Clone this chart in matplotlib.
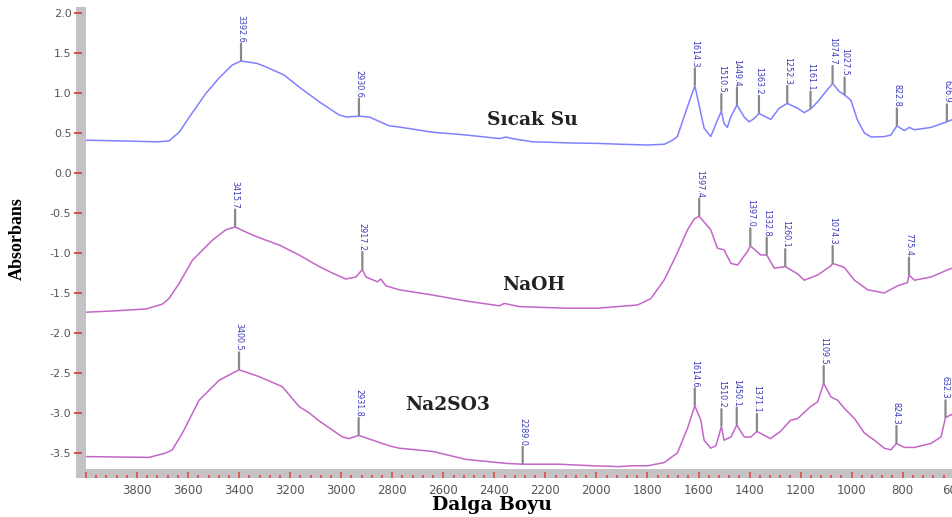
import numpy as np
import matplotlib.pyplot as plt
from matplotlib.patches import Rectangle
from matplotlib.ticker import MultipleLocator

plt.rcParams['axes.unicode_minus'] = False

# Sicak Su spectrum (wavenumber, absorbance)
sicak_x = [4000, 3850, 3720, 3675, 3635, 3584, 3529, 3478, 3427, 3392.6, 3330, 3294, 3224, 3165,
           3086, 3008, 2980, 2930.6, 2890, 2812, 2773, 2643, 2510, 2380, 2355, 2330, 2251, 2094,
           1996, 1910, 1800, 1733, 1702, 1683, 1643, 1614.3, 1578, 1552, 1526, 1510.5, 1500, 1487,
           1474, 1449.4, 1421, 1402, 1382, 1363.2, 1317, 1284, 1252.3, 1212, 1186, 1161.1, 1133,
           1107, 1074.7, 1049, 1027.5, 1003, 977, 950, 924, 872, 846, 822.8, 794, 774, 754, 689,
           626.9, 595]
sicak_y = [0.41, 0.40, 0.39, 0.40, 0.51, 0.75, 1.00, 1.19, 1.35, 1.40, 1.37, 1.325, 1.225, 1.075,
           0.89, 0.725, 0.70, 0.71, 0.70, 0.59, 0.575, 0.51, 0.475, 0.43, 0.45, 0.43, 0.39, 0.375,
           0.37, 0.36, 0.35, 0.36, 0.41, 0.455, 0.83, 1.09, 0.56, 0.455, 0.66, 0.77, 0.62, 0.57,
           0.70, 0.85, 0.70, 0.64, 0.68, 0.745, 0.67, 0.81, 0.87, 0.81, 0.755, 0.80, 0.89,
           0.995, 1.12, 1.02, 0.975, 0.91, 0.66, 0.50, 0.45, 0.455, 0.475, 0.59, 0.53, 0.57, 0.54, 0.57,
           0.64, 0.68]
sicak_peaks = [3392.6, 2930.6, 1614.3, 1510.5, 1449.4, 1363.2, 1252.3, 1161.1, 1074.7, 1027.5, 822.8, 626.9]

# NaOH spectrum
naoh_x = [4000, 3897, 3766, 3701, 3675, 3635, 3583, 3505, 3452, 3415.7, 3348, 3295, 3243, 3165,
          3086, 3035, 2982, 2942, 2917.2, 2903, 2858, 2845, 2825, 2773, 2643, 2511, 2380, 2361,
          2302, 2119, 1996, 1839, 1787, 1735, 1683, 1643, 1617, 1597.4, 1552, 1526, 1500, 1473,
          1447, 1408, 1397.0, 1356, 1332.8, 1303, 1260.1, 1212, 1186, 1133, 1081, 1074.3, 1029,
          989, 937, 872, 820, 781, 775.4, 754, 689, 616, 595]
naoh_y = [-1.74, -1.725, -1.70, -1.64, -1.57, -1.38, -1.09, -0.84, -0.71, -0.675, -0.775, -0.84, -0.90, -1.025,
          -1.17, -1.25, -1.325, -1.30, -1.205, -1.30, -1.36, -1.325, -1.41, -1.46, -1.525, -1.60, -1.66, -1.63,
          -1.67, -1.69, -1.69, -1.65, -1.57, -1.34, -1.00, -0.71, -0.575, -0.54, -0.71, -0.94, -0.96, -1.13,
          -1.15, -0.98, -0.91, -1.025, -1.025, -1.19, -1.17, -1.26, -1.34, -1.275, -1.16, -1.13, -1.18,
          -1.34, -1.46, -1.50, -1.41, -1.37, -1.275, -1.34, -1.30, -1.20, -1.18]
naoh_peaks = [3415.7, 2917.2, 1597.4, 1397.0, 1332.8, 1260.1, 1074.3, 775.4]

# Na2SO3 spectrum
na2_x = [4000, 3753, 3687, 3662, 3622, 3557, 3478, 3400.5, 3322, 3231, 3165, 3125, 3086, 2995,
         2969, 2931.8, 2812, 2773, 2642, 2511, 2354, 2289.0, 2145, 2015, 1910, 1866, 1800, 1735,
         1683, 1643, 1614.6, 1591, 1578, 1552, 1532, 1510.2, 1500, 1473, 1450.1, 1421, 1395,
         1371.1, 1318, 1279, 1239, 1212, 1161, 1133, 1109.5, 1081, 1055, 1029, 989, 950, 911,
         872, 846, 824.3, 794, 754, 689, 650, 632.3, 610, 595]
na2_y = [-3.545, -3.555, -3.50, -3.46, -3.25, -2.84, -2.59, -2.46, -2.545, -2.67, -2.92, -3.0, -3.10, -3.30,
         -3.32, -3.28, -3.41, -3.44, -3.48, -3.58, -3.63, -3.64, -3.64, -3.66, -3.67, -3.66, -3.66, -3.62,
         -3.50, -3.19, -2.91, -3.09, -3.34, -3.44, -3.41, -3.17, -3.34, -3.30, -3.15, -3.30, -3.30,
         -3.23, -3.32, -3.23, -3.09, -3.07, -2.92, -2.86, -2.63, -2.80, -2.84, -2.94, -3.07, -3.25, -3.34,
         -3.44, -3.46, -3.38, -3.43, -3.43, -3.38, -3.30, -3.06, -3.02, -3.05]
na2_peaks = [3400.5, 2931.8, 2289.0, 1614.6, 1510.2, 1450.1, 1371.1, 1109.5, 824.3, 632.3]

series_names = ['Sıcak Su', 'NaOH', 'Na2SO3']
name_pos = [(2251, 0.66), (2247, -1.40), (2584, -2.90)]

xticks = list(range(4000, 599, -200))
xtick_labels = [''] + [str(t) for t in xticks[1:]]
yticks = [2.0, 1.5, 1.0, 0.5, 0.0, -0.5, -1.0, -1.5, -2.0, -2.5, -3.0, -3.5]

blue = '#8080ff'
violet = '#c466c8'
label_blue = '#3a3ab8'

fig = plt.figure(figsize=(9.52, 5.17), dpi=100)
ax = fig.add_axes([86 / 952, 1 - 469 / 517, 869 / 952, 462 / 517])

curves = [(sicak_x, sicak_y, sicak_peaks, blue),
          (naoh_x, naoh_y, naoh_peaks, violet),
          (na2_x, na2_y, na2_peaks, violet)]

for cx, cy, peaks, col in curves:
    ax.plot(cx, cy, color=col, lw=1.1, zorder=3)
    for p in peaks:
        py = np.interp(p, cx[::-1], cy[::-1])
        ax.annotate('', xy=(p, py + 0.01), xytext=(0, 12), textcoords='offset points',
                    arrowprops=dict(arrowstyle='-', color='#888888', lw=1.6, shrinkA=0, shrinkB=0),
                    zorder=4)
        ax.annotate(f'{p:.1f}', xy=(p, py), xytext=(0, 13.5), textcoords='offset points',
                    rotation=270, ha='center', va='bottom', fontsize=5.8,
                    color=label_blue, zorder=4)

for name, (nx, ny) in zip(series_names, name_pos):
    ax.text(nx, ny, name, fontsize=13.5, fontweight='bold', family='DejaVu Serif',
            ha='center', va='center', color='#222222')

ax.set_xlim(4000, 595)
ax.set_ylim(-3.70, 2.075)

# gray frame bars
ax.add_patch(Rectangle((-10 / 869, -9 / 462), 10 / 869, 471 / 462, transform=ax.transAxes,
                       facecolor='#c4c2c4', edgecolor='none', clip_on=False, zorder=1))
ax.add_patch(Rectangle((-10 / 869, -9 / 462), 1.02, 9 / 462, transform=ax.transAxes,
                       facecolor='#c4c2c4', edgecolor='none', clip_on=False, zorder=1))

for s in ['top', 'right']:
    ax.spines[s].set_visible(False)
ax.spines['left'].set_position(('outward', 3))
ax.spines['bottom'].set_position(('outward', 6.5))
ax.spines['left'].set_color('none')
ax.spines['bottom'].set_color('none')

ax.set_xticks(xticks)
ax.set_xticklabels(xtick_labels)
ax.xaxis.set_minor_locator(MultipleLocator(40))
ax.set_yticks(yticks)
ax.set_yticklabels([f'{v:.1f}' for v in yticks])

ax.tick_params(axis='x', which='major', direction='in', length=4.5, width=1.1, color='#e04040',
               labelsize=8.5, labelcolor='#555555', pad=4)
ax.tick_params(axis='x', which='minor', direction='in', length=2, width=1.1, color='#e04040')
ax.tick_params(axis='y', direction='out', length=6, width=1.3, color='#e04040',
               labelsize=8, labelcolor='#555555', pad=1.5)

fig.text(492 / 952, 1 - 505 / 517, 'Dalga Boyu', fontsize=13.5, fontweight='bold',
         family='DejaVu Serif', ha='center', va='center')
fig.text(17 / 952, 1 - 239 / 517, 'Absorbans', rotation=90, fontsize=13, fontweight='bold',
         family='Liberation Serif', ha='center', va='center')

fig.savefig('out.png', dpi=100)
